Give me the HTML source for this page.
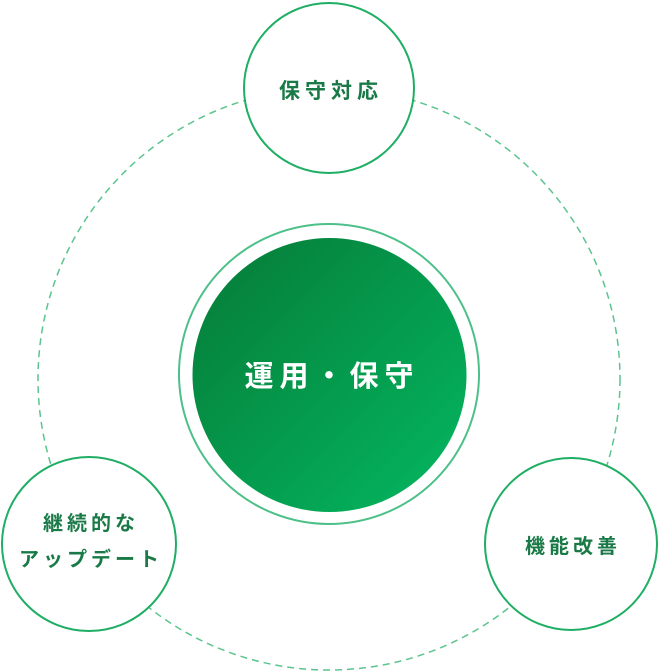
<!DOCTYPE html>
<html><head><meta charset="utf-8"><style>
html,body{margin:0;padding:0;background:#fff;width:658px;height:672px;overflow:hidden}
svg text{font-family:"Liberation Sans","Noto Sans CJK JP",sans-serif}
</style></head><body>
<svg width="658" height="672" viewBox="0 0 658 672" xmlns="http://www.w3.org/2000/svg">
<defs>
<linearGradient id="g" x1="0" y1="0" x2="1" y2="1">
<stop offset="0" stop-color="#067a36"/>
<stop offset="1" stop-color="#03b862"/>
</linearGradient>
</defs>
<circle cx="329" cy="379" r="291" fill="none" stroke="#5cc48e" stroke-width="1.5" stroke-dasharray="7 5"/>
<circle cx="329" cy="374" r="150" fill="#fff" stroke="#4cc088" stroke-width="2"/>
<circle cx="329.5" cy="375" r="137" fill="url(#g)"/>
<text x="332" y="386" text-anchor="middle" font-size="29" font-weight="bold" fill="#fff" letter-spacing="6">運用・保守</text>
<circle cx="329" cy="88" r="85" fill="#fff" stroke="#1fae64" stroke-width="2"/>
<text x="331" y="98" text-anchor="middle" font-size="21" font-weight="bold" fill="#1a7a47" letter-spacing="5">保守対応</text>
<circle cx="89" cy="544" r="87" fill="#fff" stroke="#1fae64" stroke-width="2"/>
<text x="91" y="530" text-anchor="middle" font-size="20" font-weight="bold" fill="#1a7a47" letter-spacing="4">継続的な</text>
<text x="91" y="566" text-anchor="middle" font-size="20" font-weight="bold" fill="#1a7a47" letter-spacing="4">アップデート</text>
<circle cx="571" cy="544" r="86" fill="#fff" stroke="#1fae64" stroke-width="2"/>
<text x="573" y="553" text-anchor="middle" font-size="20" font-weight="bold" fill="#1a7a47" letter-spacing="4">機能改善</text>
</svg>
</body></html>
